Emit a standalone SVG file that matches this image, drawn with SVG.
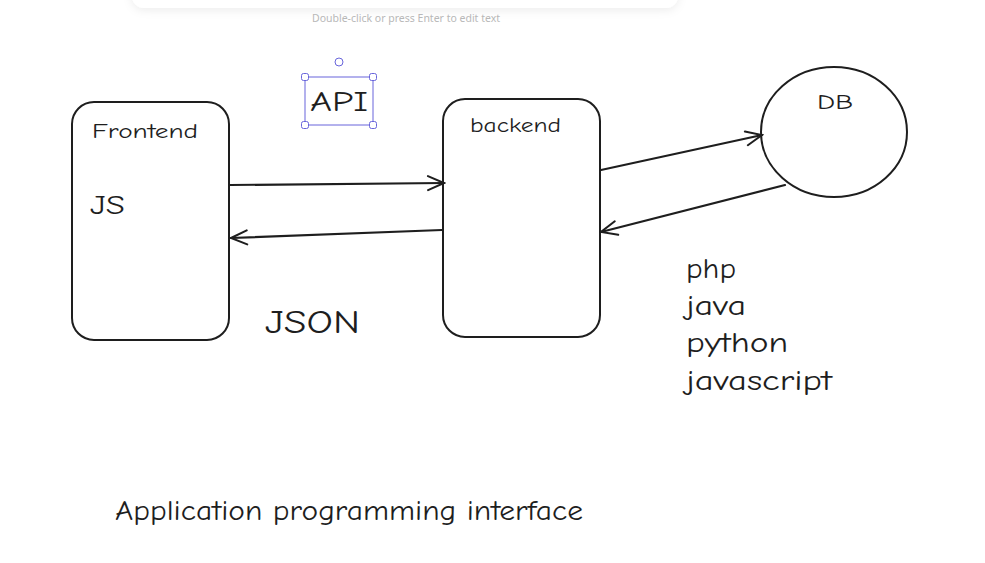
<svg xmlns="http://www.w3.org/2000/svg" width="985" height="563" viewBox="0 0 985 563">
<style>
.shape{fill:none;stroke:#1e1e1e;stroke-width:2;stroke-linecap:round;stroke-linejoin:round}
.conn{fill:none;stroke:#1e1e1e;stroke-width:2.2;stroke-linecap:round;stroke-linejoin:round}
.t{font-family:"Comic Neue","Liberation Sans","DejaVu Sans",sans-serif;fill:#1e1e1e}
.sel{fill:none;stroke:#6965db;stroke-width:1}
.h{fill:#ffffff;stroke:#6965db;stroke-width:1}
</style>
<defs>
<filter id="sh" x="-10%" y="-100%" width="120%" height="300%">
<feDropShadow dx="0" dy="2" stdDeviation="5" flood-color="#000" flood-opacity="0.08"/>
</filter>
<marker id="ah" viewBox="0 0 20 20" refX="18" refY="10" markerWidth="20" markerHeight="20" markerUnits="userSpaceOnUse" orient="auto">
<path d="M2 3 L18 10 L2 17" fill="none" stroke="#1e1e1e" stroke-width="2" stroke-linecap="round"/>
</marker>
</defs>
<rect width="985" height="563" fill="#ffffff"/>
<rect x="132" y="-40" width="546" height="48" rx="12" fill="#ffffff" filter="url(#sh)"/>
<text x="312" y="22" textLength="188" lengthAdjust="spacingAndGlyphs" font-family="'Noto Sans','Liberation Sans',sans-serif" font-size="10.5" fill="#b8b8b8">Double-click or press Enter to edit text</text>

<g id="frontend">
<rect class="shape" x="72" y="102" width="157" height="238" rx="22"/>
<text class="t" x="92" y="138" font-size="21" textLength="106" lengthAdjust="spacingAndGlyphs">Frontend</text>
<text class="t" x="90" y="214" font-size="26" textLength="35" lengthAdjust="spacingAndGlyphs">JS</text>
</g>
<g id="backend">
<rect class="shape" x="443" y="99" width="157" height="238" rx="22"/>
<text class="t" x="470" y="132" font-size="21" textLength="91" lengthAdjust="spacingAndGlyphs">backend</text>
</g>
<g id="db">
<ellipse class="shape" cx="834" cy="132" rx="73" ry="65"/>
<text class="t" x="817" y="109" font-size="21" textLength="36" lengthAdjust="spacingAndGlyphs">DB</text>
</g>
<g id="api">
<text class="t" x="310" y="111" font-size="29" textLength="58" lengthAdjust="spacingAndGlyphs">API</text>
<rect class="sel" x="305" y="77" width="68" height="48"/>
<rect class="h" x="301.5" y="73.5" width="7" height="7" rx="2"/>
<rect class="h" x="369.5" y="73.5" width="7" height="7" rx="2"/>
<rect class="h" x="301.5" y="121.5" width="7" height="7" rx="2"/>
<rect class="h" x="369.5" y="121.5" width="7" height="7" rx="2"/>
<circle class="h" cx="339" cy="62" r="4"/>
</g>
<g id="json">
<text class="t" x="265" y="333" font-size="33" textLength="95" lengthAdjust="spacingAndGlyphs">JSON</text>
</g>
<g id="languages">
<text class="t" x="686" y="278" font-size="29" textLength="50" lengthAdjust="spacingAndGlyphs">php</text>
<text class="t" x="686" y="315" font-size="29" textLength="60" lengthAdjust="spacingAndGlyphs">java</text>
<text class="t" x="686" y="352" font-size="29" textLength="102" lengthAdjust="spacingAndGlyphs">python</text>
<text class="t" x="686" y="390" font-size="29" textLength="146" lengthAdjust="spacingAndGlyphs">javascript</text>
</g>
<g id="caption">
<text class="t" x="115" y="520" font-size="29" textLength="468" lengthAdjust="spacingAndGlyphs">Application programming interface</text>
</g>

<g id="connectors">
<path class="conn" d="M230 185 L444 183" marker-end="url(#ah)"/>
<path class="conn" d="M442 230 L231 238" marker-end="url(#ah)"/>
<path class="conn" d="M601 170 L762 135" marker-end="url(#ah)"/>
<path class="conn" d="M785 185 L601 232" marker-end="url(#ah)"/>
</g>
</svg>
